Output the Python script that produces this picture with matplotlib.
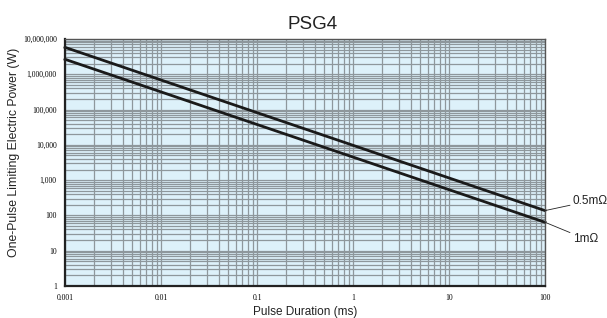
import numpy as np
import matplotlib.pyplot as plt
from matplotlib.ticker import LogLocator, NullFormatter

# pulse duration (ms) and limiting power (W)
durations = [0.001, 100]
power_05m = [5.8e6, 137]
power_1m = [2.66e6, 64]
series_labels = ["0.5m\u03a9", "1m\u03a9"]

x_ticks = [0.001, 0.01, 0.1, 1, 10, 100]
x_ticklabels = ["0.001", "0.01", "0.1", "1", "10", "100"]
y_ticks = [1, 10, 100, 1000, 10000, 100000, 1000000, 10000000]
y_ticklabels = ["1", "10", "100", "1,000", "10,000", "100,000", "1,000,000", "10,000,000"]

fig = plt.figure(figsize=(6.07, 3.18), dpi=100)
ax = fig.add_axes([65/607, 1 - 286/318, 480/607, 247/318])
ax.set_facecolor("#ddf1fa")
ax.set_xscale("log")
ax.set_yscale("log")
ax.set_xlim(0.001, 100)
ax.set_ylim(1, 1e7)

ax.xaxis.set_minor_locator(LogLocator(base=10, subs=np.arange(2, 10)))
ax.yaxis.set_minor_locator(LogLocator(base=10, subs=np.arange(2, 10)))
ax.xaxis.set_minor_formatter(NullFormatter())
ax.yaxis.set_minor_formatter(NullFormatter())
ax.grid(which="both", color="#8e979c", linewidth=0.9)
ax.set_axisbelow(True)

ax.set_xticks(x_ticks)
ax.set_xticklabels(x_ticklabels, family="Liberation Serif", fontsize=5.5)
ax.set_yticks(y_ticks)
ax.set_yticklabels(y_ticklabels, family="Liberation Serif", fontsize=5.5)
ax.tick_params(which="both", length=0, pad=6)

for s in ax.spines.values():
    s.set_color("#555555")
    s.set_linewidth(1.0)
ax.spines["left"].set_color("#222222")
ax.spines["bottom"].set_color("#222222")
ax.spines["left"].set_linewidth(1.6)
ax.spines["bottom"].set_linewidth(1.6)

ax.plot(durations, power_05m, color="#1a1a1a", linewidth=2.0, clip_on=False)
ax.plot(durations, power_1m, color="#1a1a1a", linewidth=2.0, clip_on=False)

ax.annotate(series_labels[0], xy=(durations[-1], power_05m[-1]), xycoords="data",
            xytext=(20, 7), textcoords="offset points", fontsize=8.5, color="#222222",
            va="center", ha="left", family="Liberation Sans",
            arrowprops=dict(arrowstyle="-", color="#222222", linewidth=0.6,
                            shrinkA=0, shrinkB=0))
ax.annotate(series_labels[1], xy=(durations[-1], power_1m[-1]), xycoords="data",
            xytext=(20, -12), textcoords="offset points", fontsize=8.5, color="#222222",
            va="center", ha="left", family="Liberation Sans",
            arrowprops=dict(arrowstyle="-", color="#222222", linewidth=0.6,
                            shrinkA=0, shrinkB=0))

ax.set_title("PSG4", fontsize=13.5, family="Liberation Sans", color="#222222", pad=7, x=0.515)
ax.set_xlabel("Pulse Duration (ms)", fontsize=8.5, family="Liberation Sans", color="#222222", labelpad=3)
ax.set_ylabel("One-Pulse Limiting Electric Power (W)", fontsize=8.8, family="Liberation Sans",
              color="#222222")
ax.yaxis.set_label_coords(-0.094, 0.54)

fig.savefig("out.png", dpi=100)
